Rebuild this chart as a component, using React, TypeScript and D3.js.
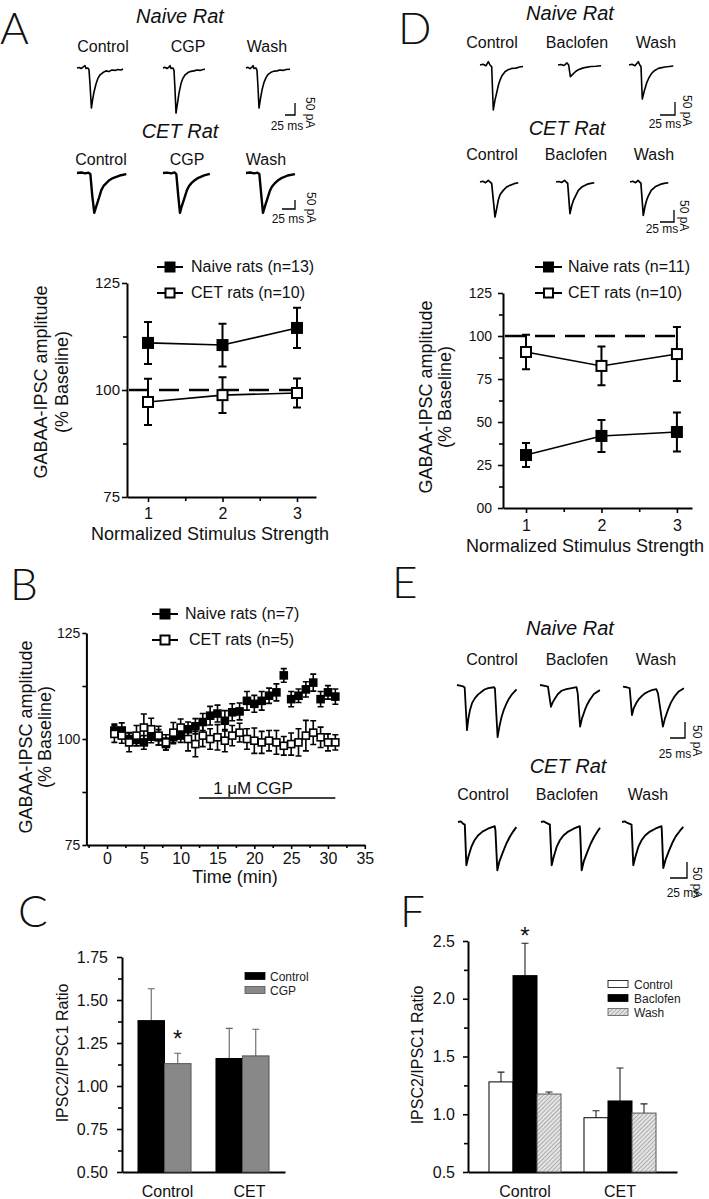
import React, { useRef, useEffect } from 'react';
import * as d3 from 'd3';

const FONT = "'Liberation Sans', Arial, Helvetica, sans-serif";
const LETTER_FONT = "Lato, 'DejaVu Sans', sans-serif";

// ---- A / D : amplitude vs normalized stimulus strength ----
const stimLevels = [1, 2, 3];
const naiveA = [111.0, 110.5, 114.5];
const naiveAErr = [4.9, 5.0, 4.7];
const cetA = [97.2, 98.8, 99.3];
const cetAErr = [5.4, 4.2, 3.4];
const naiveD = [30.8, 41.9, 44.2];
const naiveDErr = [7.0, 9.3, 11.3];
const cetD = [90.7, 82.6, 89.5];
const cetDErr = [10.0, 11.3, 15.7];

// ---- B : time course ----
const timeMin = [1, 2, 3, 4, 5, 6, 7, 8, 9, 10, 11, 12, 13, 14, 15, 16, 17, 18, 19, 20, 21, 22, 23, 24, 25, 26, 27, 28, 29, 30, 31];
const naiveB = [102.0, 102.0, 100.0, 99.8, 99.2, 100.6, 100.4, 98.8, 100.4, 100.8, 102.3, 103.0, 104.0, 105.5, 106.0, 104.3, 106.3, 106.5, 109.0, 108.3, 109.0, 110.2, 111.0, 115.0, 109.4, 110.2, 111.7, 113.3, 109.4, 111.0, 110.0];
const naiveBErr = [1.5, 1.8, 1.5, 1.4, 1.6, 1.5, 1.8, 1.4, 1.5, 1.6, 1.7, 1.8, 2.0, 2.2, 2.0, 2.4, 2.0, 2.0, 2.2, 2.0, 2.2, 1.8, 2.0, 1.6, 1.8, 1.6, 1.8, 2.0, 1.8, 1.6, 1.8];
const cetB = [101.2, 100.8, 99.2, 100.8, 102.7, 102.3, 100.8, 99.2, 101.5, 102.7, 100.0, 98.8, 100.8, 100.0, 100.4, 99.6, 100.8, 101.5, 100.0, 99.6, 99.2, 99.6, 99.2, 98.4, 98.8, 99.2, 100.8, 101.5, 100.4, 99.2, 99.2];
const cetBErr = [2.0, 1.8, 2.2, 2.4, 3.2, 2.6, 2.2, 1.8, 2.4, 2.0, 2.8, 3.0, 2.6, 2.4, 3.0, 2.6, 2.4, 2.2, 2.4, 3.0, 2.6, 2.4, 2.8, 2.2, 2.6, 3.2, 3.6, 2.8, 2.4, 2.0, 1.8];
const cgpWindow = [12.5, 31];
const timeTicks = [0, 5, 10, 15, 20, 25, 30, 35];

// ---- C / F : paired-pulse ratio ----
const groups = ['Control', 'CET'];
const cControl = [1.38, 1.16];
const cControlErr = [0.185, 0.175];
const cCGP = [1.13, 1.175];
const cCGPErr = [0.06, 0.155];
const fControl = [1.28, 0.97];
const fControlErr = [0.085, 0.06];
const fBaclofen = [2.2, 1.115];
const fBaclofenErr = [0.28, 0.285];
const fWash = [1.175, 1.01];
const fWashErr = [0.018, 0.08];

// ---- example traces [ms, pA] ----
const naiveCtrlA = [[0, 0], [5, 2], [10, -2], [15, 4], [20, 10], [22.5, -2], [27.5, 0], [30, -8], [32.5, -67], [36, -167], [39, -133], [42.5, -100], [47.5, -67], [52.5, -42], [57.5, -29], [65, -19], [72.5, -12], [80, -15], [87.5, -8], [95, -10], [102.5, -6], [110, -8], [115, -4]];
const naiveCgpA = [[0, 0], [5, 3], [10, -2], [15, 4], [17.5, 10], [20, -2], [25, 0], [27.5, -10], [30, -90], [32.5, -188], [36, -150], [40, -105], [45, -65], [50, -42], [55, -29], [62.5, -19], [70, -14], [77.5, -12], [85, -8], [92.5, -10], [100, -6], [105, -5]];
const naiveWashA = [[0, 0], [5, 3], [10, -3], [15, 4], [17.5, 10], [20, -2], [25, 0], [27.5, -10], [30, -80], [32.5, -167], [36, -130], [40, -92], [45, -60], [50, -40], [55, -27], [62.5, -18], [70, -13], [77.5, -12], [85, -8], [92.5, -10], [100, -6], [110, -5]];
const cetCtrlA = [[0, 0], [8, 3], [16, -2], [22, 2], [25.6, -5], [29.4, -128], [33.2, -222], [37, -185], [41, -150], [46.7, -95], [51, -72], [56.3, -56], [62, -40], [69, -28], [82, -14], [94.7, -6]];
const cetCgpA = [[0, 0], [8, 2], [16, -2], [22, 3], [25.6, -6], [29.4, -130], [32.6, -222], [36, -185], [40, -150], [46, -95], [50, -72], [55, -55], [61, -40], [67, -28], [79, -13], [90, -5]];
const cetWashA = [[0, 0], [8, 3], [16, -2], [22, 2], [25.6, -5], [29.4, -125], [32.6, -222], [36, -188], [40, -152], [46, -98], [50, -75], [55, -58], [61, -42], [67, -30], [80, -14], [94, -6]];
const naiveCtrlD = [[0, 0], [5, 3], [10, -3], [13.9, 13], [16.7, 0], [19.5, -6], [22.2, -173], [25, -135], [27.8, -108], [30.5, -80], [33.4, -58], [37, -40], [41.7, -26], [47, -18], [52.9, -13], [60, -12], [66, -8], [71.8, -6]];
const naiveBacD = [[0, 0], [5, 2], [10, -2], [15, 8], [17.8, 0], [20.6, -45], [25, -35], [28.9, -26], [34, -18], [40, -13], [47, -9], [55, -6], [63, -5], [72, -3]];
const naiveWashD = [[0, 0], [5, 3], [10, -3], [15.5, 13], [18, 0], [20, -6], [22.2, -131], [25.5, -100], [29.5, -69], [33.5, -48], [37.8, -32], [43, -21], [49, -13], [55, -10], [60, -8], [67, -6], [74, -4]];
const cetCtrlD = [[0, 0], [5, 3], [10, -3], [14.9, 7], [17.9, 0], [20.9, -6], [26.8, -146], [30, -110], [32.8, -75], [36, -52], [41.7, -35], [47, -22], [53.7, -14], [61, -7], [68.6, -3]];
const cetBacD = [[0, 0], [5, 2], [10, -2], [15.5, 7], [18, 0], [20.9, -5], [25, -132], [28, -100], [31, -78], [34, -63], [40, -35], [46, -21], [55, -10], [62, -6], [68.6, -3]];
const cetWashD = [[0, 0], [5, 3], [10, -3], [14.5, 7], [17, 0], [19.5, -5], [23.8, -139], [27, -100], [29.5, -78], [32, -62], [38, -35], [45, -20], [54, -10], [61, -6], [68.6, -3]];
const naiveCtrlE = [[0, 0], [5, -2], [10, -4], [12.8, -8], [16.7, -141], [19, -105], [21.7, -78], [25.5, -55], [30, -41], [35, -30], [41, -21], [46, -14], [52, -10], [62, -7], [63.3, -10], [67.8, -163], [71, -128], [74.4, -100], [78.5, -76], [82.8, -57], [87, -42], [91, -31], [99.4, -14]];
const naiveBacE = [[0, 0], [6, -2], [13.3, -5], [18.3, -68], [21, -55], [25, -42], [30, -28], [36, -18], [44, -13], [53, -10], [61, -7], [63, -26], [67, -130], [70, -105], [75, -78], [79, -60], [83, -47], [90, -28], [100, -16]];
const naiveWashE = [[0, -5], [6, -7], [11.1, -10], [15, -94], [18, -72], [22, -57], [26, -45], [30.5, -36], [36, -27], [41.7, -21], [48, -16], [55.6, -13], [58.4, -26], [66.7, -130], [70, -105], [75, -78], [80, -55], [86, -36], [93, -20], [101.7, -10]];
const cetCtrlE = [[0, 0], [4, 2], [7.3, -5], [10, -8], [12.3, -135], [15, -110], [19.6, -78], [24, -58], [29.4, -42], [36, -30], [44, -21], [54, -13], [55, -26], [57.8, -151], [61, -122], [66, -94], [71, -68], [76, -47], [81, -30], [85.7, -16]];
const cetBacE = [[0, 0], [4, 2], [8, -3], [13, -8], [15.7, -135], [18.5, -110], [23, -78], [27.5, -58], [33, -42], [40, -30], [48, -21], [57, -13], [57.5, -26], [59.8, -151], [63, -122], [68, -94], [73, -68], [78, -47], [83, -30], [86.7, -18]];
const cetWashE = [[0, 0], [4, 2], [8, -3], [14, -8], [16.6, -135], [19.5, -110], [24, -78], [28.5, -58], [34, -42], [41, -30], [49, -21], [58, -13], [58.5, -26], [60.7, -144], [64, -118], [69, -90], [74, -65], [79, -45], [85, -28], [90, -15]];

const txt = (g, x, y, s, size, opts: any = {}) =>
  g.append('text')
    .attr('x', x).attr('y', y)
    .attr('font-family', opts.family || FONT)
    .attr('font-size', size)
    .attr('font-style', opts.italic ? 'italic' : 'normal')
    .attr('font-weight', opts.weight || 'normal')
    .attr('text-anchor', opts.anchor || 'middle')
    .attr('fill', opts.fill || '#111')
    .text(s);

const vtxt = (g, x, y, s, size, rot = -90, anchor = 'middle') =>
  g.append('text')
    .attr('transform', `translate(${x},${y}) rotate(${rot})`)
    .attr('font-family', FONT).attr('font-size', size)
    .attr('text-anchor', anchor).attr('fill', '#111')
    .text(s);

function styleAxis(g, size) {
  g.attr('font-family', FONT).attr('font-size', size);
  g.select('.domain').attr('stroke', '#000').attr('stroke-width', 2);
  g.selectAll('.tick line').attr('stroke', '#000').attr('stroke-width', 1.6);
  g.selectAll('.tick text').attr('fill', '#111');
}

// one row of example traces with its scale bar
function traceRow(svg, row) {
  const g = svg.append('g');
  row.traces.forEach(([data, x0, y0]) => {
    const x = d3.scaleLinear().domain([0, 100]).range([x0, x0 + 100 / row.msPx]);
    const y = d3.scaleLinear().domain([0, -100]).range([y0, y0 + 100 / row.pAPx]);
    const line = d3.line().x(d => x(d[0])).y(d => y(d[1]));
    g.append('path').attr('d', line(data)).attr('fill', 'none')
      .attr('stroke', '#000').attr('stroke-width', row.sw).attr('stroke-linejoin', 'round');
  });
  const [cx, cy] = row.bar;
  const bx = d3.scaleLinear().domain([0, 25]).range([cx, cx - 25 / row.msPx]);
  const by = d3.scaleLinear().domain([0, 50]).range([cy, cy - 50 / row.pAPx]);
  g.append('path').attr('d', `M${bx(25)},${cy}H${cx}V${by(50)}`)
    .attr('fill', 'none').attr('stroke', '#000').attr('stroke-width', 1.3);
  txt(g, row.msLabel[0], row.msLabel[1], '25 ms', 12);
  vtxt(g, row.pALabel[0], row.pALabel[1], '50 pA', 12, 90, 'start');
}

function stimPanel(svg, o) {
  const g = svg.append('g');
  const x = d3.scaleLinear().domain(o.xDomain).range(o.xRange);
  const y = d3.scaleLinear().domain(o.yDomain).range(o.yRange);
  const x0 = o.xRange[0];
  const yb = o.yRange[0];

  const ya = g.append('g').attr('transform', `translate(${x0},0)`)
    .call(d3.axisLeft(y).tickValues(o.yTicks).tickFormat(o.yFmt).tickSize(5).tickPadding(o.yPad).tickSizeOuter(0));
  styleAxis(ya, o.yFont);
  const ym = g.append('g').attr('transform', `translate(${x0},0)`)
    .call(d3.axisLeft(y).tickValues(o.yMinor).tickFormat(() => '').tickSize(4));
  ym.select('.domain').remove();
  styleAxis(ym, o.yFont);

  const xa = g.append('g').attr('transform', `translate(0,${yb})`)
    .call(d3.axisBottom(x).tickValues(stimLevels).tickFormat(d3.format('d')).tickSize(5).tickPadding(o.xPad).tickSizeOuter(0));
  styleAxis(xa, 16);
  const xm = g.append('g').attr('transform', `translate(0,${yb})`)
    .call(d3.axisBottom(x).tickValues([1.5, 2.5]).tickFormat(() => '').tickSize(4));
  xm.select('.domain').remove();
  styleAxis(xm, 16);

  // 100% baseline
  g.append('line').attr('x1', x0 + 2).attr('x2', x(3.05)).attr('y1', y(100)).attr('y2', y(100))
    .attr('stroke', '#000').attr('stroke-width', 2.5).attr('stroke-dasharray', '20,10');

  const series = [
    { v: o.naive, e: o.naiveErr, filled: true },
    { v: o.cet, e: o.cetErr, filled: false },
  ];
  series.forEach(s => {
    const pts = stimLevels.map((l, i) => [x(l), y(s.v[i])]);
    g.append('path').attr('d', d3.line()(pts)).attr('fill', 'none').attr('stroke', '#000').attr('stroke-width', 1.6);
    stimLevels.forEach((l, i) => {
      const cx = x(l);
      const t = y(s.v[i] + s.e[i]);
      const b = y(s.v[i] - s.e[i]);
      g.append('path').attr('d', `M${cx},${t}V${b}M${cx - 4},${t}H${cx + 4}M${cx - 4},${b}H${cx + 4}`)
        .attr('stroke', '#000').attr('stroke-width', 2).attr('fill', 'none');
    });
  });
  series.forEach(s => {
    stimLevels.forEach((l, i) => {
      g.append('rect').attr('x', x(l) - 5).attr('y', y(s.v[i]) - 5).attr('width', 10).attr('height', 10)
        .attr('fill', s.filled ? '#000' : '#fff').attr('stroke', '#000').attr('stroke-width', 2);
    });
  });

  // legend
  o.legend.forEach(([label, filled, lx0, lx1, ly, tx]) => {
    g.append('line').attr('x1', lx0).attr('x2', lx1).attr('y1', ly).attr('y2', ly).attr('stroke', '#000').attr('stroke-width', 2);
    const m = (lx0 + lx1) / 2;
    g.append('rect').attr('x', m - 4.5).attr('y', ly - 4.5).attr('width', 9).attr('height', 9)
      .attr('fill', filled ? '#000' : '#fff').attr('stroke', '#000').attr('stroke-width', 2);
    txt(g, tx, ly + 5, label, 16, { anchor: 'start' });
  });

  txt(g, o.xTitle[0], o.xTitle[1], 'Normalized Stimulus Strength', 18);
  vtxt(g, o.yTitle[0], o.yTitle[2], 'GABAA-IPSC amplitude', 18);
  vtxt(g, o.yTitle[1], o.yTitle[2], '(% Baseline)', 18);
}

function timePanel(svg) {
  const g = svg.append('g');
  const x = d3.scaleLinear().domain([-2.8, 35]).range([86.4, 364.8]);
  const y = d3.scaleLinear().domain([75, 125]).range([845, 633]);

  const ya = g.append('g').attr('transform', `translate(${x(-2.8)},0)`)
    .call(d3.axisLeft(y).tickValues([75, 100, 125]).tickFormat(d3.format('d')).tickSize(4).tickPadding(2).tickSizeOuter(0));
  styleAxis(ya, 14);
  const ym = g.append('g').attr('transform', `translate(${x(-2.8)},0)`)
    .call(d3.axisLeft(y).tickValues([87.5, 112.5]).tickFormat(() => '').tickSize(4));
  ym.select('.domain').remove();
  styleAxis(ym, 14);

  const xa = g.append('g').attr('transform', `translate(0,${y(75)})`)
    .call(d3.axisBottom(x).tickValues(timeTicks).tickFormat(d3.format('d')).tickSize(4).tickPadding(4).tickSizeOuter(0));
  styleAxis(xa, 16);
  const xm = g.append('g').attr('transform', `translate(0,${y(75)})`)
    .call(d3.axisBottom(x).tickValues(timeTicks.map(t => t - 2.5)).tickFormat(() => '').tickSize(3));
  xm.select('.domain').remove();
  styleAxis(xm, 16);

  const draw = (vals, errs, filled) => {
    timeMin.forEach((t, i) => {
      const cx = x(t);
      const tt = y(vals[i] + errs[i]);
      const bb = y(vals[i] - errs[i]);
      g.append('path').attr('d', `M${cx},${tt}V${bb}M${cx - 3},${tt}H${cx + 3}M${cx - 3},${bb}H${cx + 3}`)
        .attr('stroke', '#000').attr('stroke-width', 1.6).attr('fill', 'none');
    });
    timeMin.forEach((t, i) => {
      g.append('rect').attr('x', x(t) - 3.5).attr('y', y(vals[i]) - 3.5).attr('width', 7).attr('height', 7)
        .attr('fill', filled ? '#000' : '#fff').attr('stroke', '#000').attr('stroke-width', 1.6);
    });
  };
  draw(naiveB, naiveBErr, true);
  draw(cetB, cetBErr, false);

  g.append('line').attr('x1', x(cgpWindow[0])).attr('x2', x(cgpWindow[1])).attr('y1', 798).attr('y2', 798)
    .attr('stroke', '#000').attr('stroke-width', 1.6);
  txt(g, 253, 794, '1 \u03BCM CGP', 17);

  [['Naive rats (n=7)', true, 614, 185], ['CET rats (n=5)', false, 640, 189]].forEach(([label, filled, ly, tx]: any) => {
    g.append('line').attr('x1', 152).attr('x2', 178).attr('y1', ly).attr('y2', ly).attr('stroke', '#000').attr('stroke-width', 2);
    g.append('rect').attr('x', 160.5).attr('y', ly - 4.5).attr('width', 9).attr('height', 9)
      .attr('fill', filled ? '#000' : '#fff').attr('stroke', '#000').attr('stroke-width', 2);
    txt(g, tx, ly + 5, label, 16, { anchor: 'start' });
  });

  txt(g, 235, 883, 'Time (min)', 18);
  vtxt(g, 32, 737, 'GABAA-IPSC amplitude', 18);
  vtxt(g, 51, 737, '(% Baseline)', 18);
}

function barPanel(svg, o) {
  const g = svg.append('g');
  const x0 = d3.scaleBand().domain(groups).range(o.xRange).paddingInner(o.pIn).paddingOuter(o.pOut);
  const x1 = d3.scaleBand().domain(o.series.map(s => s.name)).range([0, x0.bandwidth()]);
  const y = d3.scaleLinear().domain(o.yDomain).range(o.yRange);

  const ya = g.append('g').attr('transform', `translate(${o.xRange[0]},0)`)
    .call(d3.axisLeft(y).tickValues(o.yTicks).tickFormat(d3.format(o.fmt)).tickSize(5).tickPadding(o.yPad).tickSizeOuter(0));
  styleAxis(ya, 16);
  const ym = g.append('g').attr('transform', `translate(${o.xRange[0]},0)`)
    .call(d3.axisLeft(y).tickValues(o.yMinor).tickFormat(() => '').tickSize(4));
  ym.select('.domain').remove();
  styleAxis(ym, 16);
  const xa = g.append('g').attr('transform', `translate(0,${o.yRange[0]})`)
    .call(d3.axisBottom(x0).tickSize(0).tickPadding(14).tickSizeOuter(0));
  styleAxis(xa, 16);
  xa.selectAll('.tick text').attr('dx', (d, i) => o.labelShift[i]);

  o.series.forEach(s => {
    groups.forEach((grp, i) => {
      const bx = x0(grp) + x1(s.name);
      const w = x1.bandwidth();
      const top = y(s.vals[i]);
      const et = y(s.vals[i] + s.errs[i]);
      const cx = bx + w / 2;
      g.append('path').attr('d', `M${cx},${top}V${et}M${cx - 3.5},${et}H${cx + 3.5}`)
        .attr('stroke', o.errColor).attr('stroke-width', 1.1).attr('fill', 'none');
      g.append('rect').attr('x', bx).attr('y', top).attr('width', w).attr('height', o.yRange[0] - top)
        .attr('fill', s.fill).attr('stroke', s.stroke).attr('stroke-width', 1);
    });
  });

  const star = o.series[o.starSeries];
  const sx = x0(groups[0]) + x1(star.name) + x1.bandwidth() / 2;
  txt(g, sx, y(star.vals[0] + star.errs[0]) + o.starDy, '*', 24);

  o.series.forEach((s, i) => {
    const ly = o.legend[1] + i * o.legend[3];
    g.append('rect').attr('x', o.legend[0]).attr('y', ly - 3.5).attr('width', 20).attr('height', 7)
      .attr('fill', s.fill).attr('stroke', s.stroke).attr('stroke-width', 0.8);
    txt(g, o.legend[2], ly + 4.5, s.name, 12, { anchor: 'start', fill: '#222' });
  });

  vtxt(g, o.yTitle[0], o.yTitle[1], 'IPSC2/IPSC1 Ratio', 16);
}

function draw(svg) {
  const defs = svg.append('defs');
  const pat = defs.append('pattern').attr('id', 'hatch').attr('patternUnits', 'userSpaceOnUse')
    .attr('width', 3).attr('height', 3).attr('patternTransform', 'rotate(45)');
  pat.append('rect').attr('width', 3).attr('height', 3).attr('fill', '#e4e4e4');
  pat.append('line').attr('x1', 0).attr('x2', 0).attr('y1', 0).attr('y2', 3).attr('stroke', '#888').attr('stroke-width', 1.2);

  // panel letters
  [['A', 0, 44], ['B', 10, 600], ['C', 18, 927], ['D', 398, 44], ['E', 392, 598], ['F', 400, 927]].forEach(([l, x, y]: any) =>
    txt(svg, x, y, l, 44, { anchor: 'start', family: LETTER_FONT, weight: 300 }));

  // trace titles
  const titles = [
    ['Naive Rat', 180, 23, ['Control', 103, 52], ['CGP', 188, 52], ['Wash', 267, 52]],
    ['CET Rat', 180, 138, ['Control', 101, 165], ['CGP', 187, 165], ['Wash', 266, 165]],
    ['Naive Rat', 570, 20, ['Control', 492, 48], ['Baclofen', 577, 48], ['Wash', 656, 48]],
    ['CET Rat', 567, 135, ['Control', 492, 160], ['Baclofen', 576, 160], ['Wash', 654, 160]],
    ['Naive Rat', 570, 635, ['Control', 492, 665], ['Baclofen', 577, 665], ['Wash', 656, 665]],
    ['CET Rat', 568, 773, ['Control', 483, 800], ['Baclofen', 567, 800], ['Wash', 648, 800]],
  ];
  titles.forEach(([t, x, y, ...conds]: any) => {
    txt(svg, x, y, t, 20, { italic: true });
    conds.forEach(([c, cx, cy]) => txt(svg, cx, cy, c, 16));
  });

  const rows = [
    { traces: [[naiveCtrlA, 77, 68], [naiveCgpA, 163, 68], [naiveWashA, 246, 68]], msPx: 2.5, pAPx: 4.17, sw: 1.6, bar: [295, 115], msLabel: [287, 130], pALabel: [306, 97] },
    { traces: [[cetCtrlA, 77, 173], [cetCgpA, 163, 173], [cetWashA, 246, 173]], msPx: 1.92, pAPx: 5.56, sw: 2.4, bar: [295, 209], msLabel: [288, 223], pALabel: [307, 192] },
    { traces: [[naiveCtrlD, 480, 65], [naiveBacD, 558, 65], [naiveWashD, 629, 65]], msPx: 1.67, pAPx: 3.85, sw: 1.6, bar: [675, 115], msLabel: [665, 128], pALabel: [683, 95] },
    { traces: [[cetCtrlD, 480, 182], [cetBacD, 556, 182], [cetWashD, 630, 182]], msPx: 1.79, pAPx: 4.17, sw: 1.7, bar: [674, 222], msLabel: [662, 233], pALabel: [680, 200] },
    { traces: [[naiveCtrlE, 457, 685], [naiveBacE, 540, 685], [naiveWashE, 623, 685]], msPx: 1.67, pAPx: 3.125, sw: 1.8, bar: [685, 738], msLabel: [675, 758], pALabel: [693, 725] },
    { traces: [[cetCtrlE, 458, 822], [cetBacE, 541, 822], [cetWashE, 622, 822]], msPx: 1.47, pAPx: 3.125, sw: 1.9, bar: [687, 878], msLabel: [683, 897], pALabel: [693, 867] },
  ];
  rows.forEach(r => traceRow(svg, r));

  stimPanel(svg, {
    xDomain: [0.718, 3.255], xRange: [127, 316], yDomain: [75, 125], yRange: [497, 283],
    yTicks: [75, 100, 125], yMinor: [87.5, 112.5], yFmt: d3.format('d'), yPad: 2, yFont: 15, xPad: 6,
    naive: naiveA, naiveErr: naiveAErr, cet: cetA, cetErr: cetAErr,
    legend: [['Naive rats (n=13)', true, 157, 183, 267, 191], [' CET rats (n=10)', false, 157, 183, 293, 191]],
    xTitle: [210, 540], yTitle: [47, 68, 382],
  });
  stimPanel(svg, {
    xDomain: [0.695, 3.2], xRange: [503, 692], yDomain: [0, 125], yRange: [508, 293],
    yTicks: [0, 25, 50, 75, 100, 125], yMinor: [12.5, 37.5, 62.5, 87.5, 112.5], yFmt: d => (d === 0 ? '00' : String(d)),
    yPad: 6, yFont: 14, xPad: 7,
    naive: naiveD, naiveErr: naiveDErr, cet: cetD, cetErr: cetDErr,
    legend: [['Naive rats (n=11)', true, 535, 562, 267, 568], [' CET rats (n=10)', false, 535, 562, 293, 568]],
    xTitle: [585, 552], yTitle: [432, 451, 397],
  });

  timePanel(svg);

  barPanel(svg, {
    xRange: [122, 285], pIn: 0.32, pOut: 0.205, yDomain: [0.5, 1.75], yRange: [1172, 957],
    yTicks: [0.5, 0.75, 1.0, 1.25, 1.5, 1.75], yMinor: [0.625, 0.875, 1.125, 1.375, 1.625], fmt: '.2f', yPad: 9,
    errColor: '#666', labelShift: [3, 7],
    series: [
      { name: 'Control', vals: cControl, errs: cControlErr, fill: '#000', stroke: '#000' },
      { name: 'CGP', vals: cCGP, errs: cCGPErr, fill: '#888', stroke: '#555' },
    ],
    starSeries: 1, starDy: -6,
    legend: [245, 976, 270, 14],
    yTitle: [68, 1053],
  });
  barPanel(svg, {
    xRange: [468, 677], pIn: 0.242, pOut: 0.221, yDomain: [0.5, 2.5], yRange: [1172, 941],
    yTicks: [0.5, 1.0, 1.5, 2.0, 2.5], yMinor: [0.75, 1.25, 1.75, 2.25], fmt: '.1f', yPad: 8,
    errColor: '#222', labelShift: [0, 0],
    series: [
      { name: 'Control', vals: fControl, errs: fControlErr, fill: '#fff', stroke: '#000' },
      { name: 'Baclofen', vals: fBaclofen, errs: fBaclofenErr, fill: '#000', stroke: '#000' },
      { name: 'Wash', vals: fWash, errs: fWashErr, fill: 'url(#hatch)', stroke: '#555' },
    ],
    starSeries: 1, starDy: 1,
    legend: [608, 984, 634, 14],
    yTitle: [423, 1055],
  });
}

const App = () => {
  const svgRef = useRef<SVGSVGElement>(null);

  useEffect(() => {
    const svg = d3.select(svgRef.current);
    svg.selectAll('*').remove();
    draw(svg);
  }, []);

  return (
    <div style={{ position: 'absolute', left: 0, top: 0 }}>
      <svg ref={svgRef} width={709} height={1199} style={{ display: 'block', background: '#fff' }} />
    </div>
  );
};

export default App;
